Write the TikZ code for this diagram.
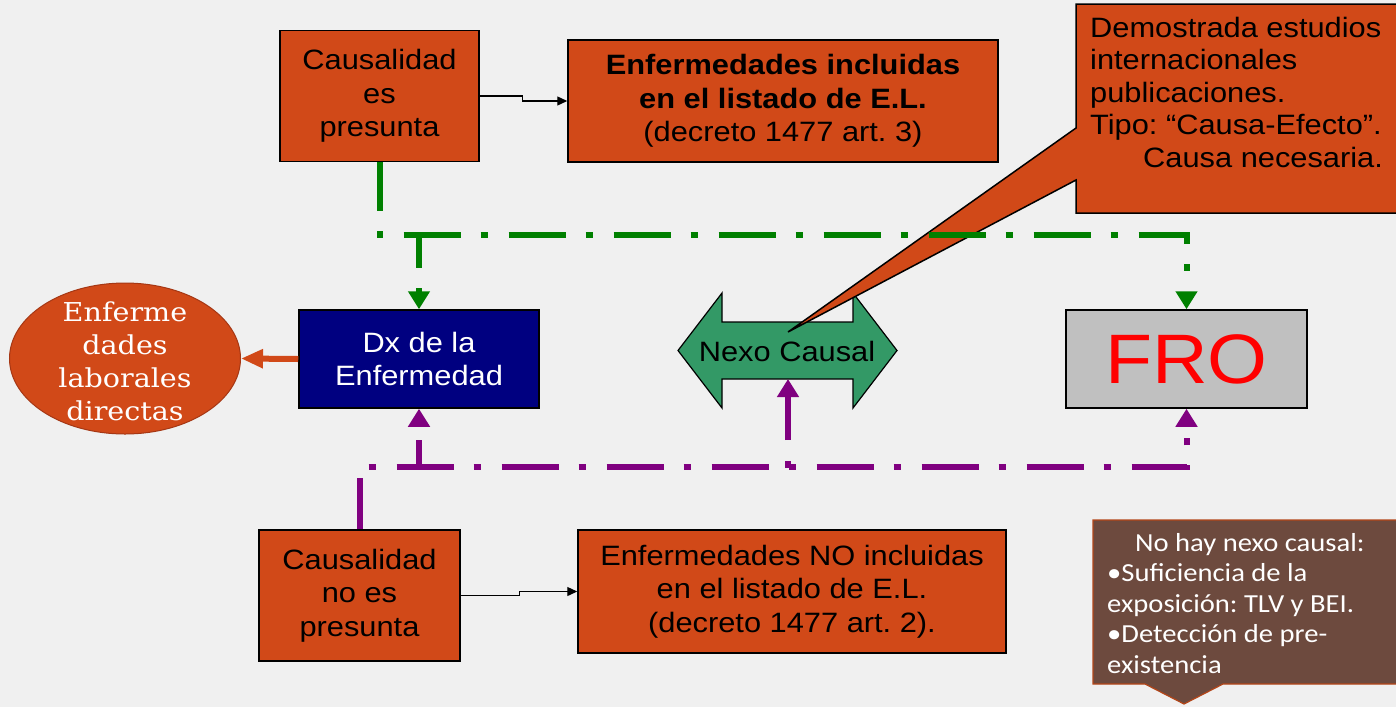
\documentclass[tikz,border=0pt]{standalone}
\usepackage{fontspec}
\setmainfont[FakeStretch=1.1]{Liberation Sans}
\newfontfamily\serifw[FakeStretch=1.1]{DejaVu Serif}
\newfontfamily\calib[FakeStretch=1.1]{Carlito}
\usetikzlibrary{arrows.meta,shapes.geometric}
\definecolor{bg}{RGB}{240,240,240}
\definecolor{orng}{RGB}{209,73,24}
\definecolor{ellborder}{RGB}{165,55,20}
\definecolor{navyb}{RGB}{0,0,128}
\definecolor{frogray}{RGB}{192,192,192}
\definecolor{nexog}{RGB}{51,153,102}
\definecolor{gline}{RGB}{0,128,0}
\definecolor{pline}{RGB}{128,0,128}
\definecolor{brownfill}{RGB}{109,74,62}
\definecolor{brownborder}{RGB}{180,70,25}
\frenchspacing
\begin{document}
\begin{tikzpicture}[x=1pt,y=-1pt,
  box/.style={draw=black, line width=1.5pt, fill=orng, inner sep=0pt, align=center,
    font=\fontsize{28}{33.5}\selectfont},
  blk/.style={draw=black, line width=1.3pt, -{Triangle[length=10pt,width=9pt]}},
  dd/.style={line width=6pt, dash pattern=on 57pt off 20pt on 7pt off 21pt,
    -{Triangle[length=18pt,width=21pt]}},
  grn/.style={dd, draw=gline},
  prp/.style={dd, draw=pline},
  txt/.style={inner sep=0pt, align=left, font=\fontsize{28}{32.5}\selectfont}
]
\useasboundingbox (0,0) rectangle (1396,707);
\clip (0,0) rectangle (1396,707);
\fill[bg] (0,0) rectangle (1396,707);

% boxes
\node[box, minimum width=199pt, minimum height=131pt] (A) at (379.5,96) {Causalidad\\es\\presunta};
\node[box, minimum width=430pt, minimum height=122pt] (B) at (783,101) {\textbf{Enfermedades incluidas}\\\textbf{en el listado de E.L.}\\(decreto 1477 art. 3)};
\node[box, fill=navyb, text=white, minimum width=240pt, minimum height=98pt] (Dx) at (419,359) {Dx de la\\Enfermedad};
\node[box, fill=frogray, text=red, minimum width=241pt, minimum height=98pt, font=\fontsize{70}{80}\selectfont] (F) at (1186.5,359) {FRO};
\node[box, minimum width=201pt, minimum height=131pt] (C) at (359.5,595.5) {Causalidad\\no es\\presunta};
\node[box, minimum width=428pt, minimum height=123pt] (D) at (792,591.5) {Enfermedades NO incluidas\\en el listado de E.L.\\(decreto 1477 art. 2).};

% ellipse
\node[ellipse, draw=ellborder, line width=1pt, fill=orng, minimum width=231pt, minimum height=151pt, inner sep=0pt] (E) at (125,358.5) {};
\node[inner sep=0pt, align=center, text=white, font=\serifw\fontsize{26}{33}\selectfont] (Et) at (125,361) {Enferme\\dades\\laborales\\directas};

% Nexo causal double arrow
\draw[fill=nexog, draw=black, line width=1.2pt] (678,350.5) -- (722,293) -- (722,322) -- (853,322) -- (853,293) -- (897,350.5) -- (853,408) -- (853,379) -- (722,379) -- (722,408) -- cycle;
\node[inner sep=0pt, font=\fontsize{28}{33.5}\selectfont] (N) at (787,351) {Nexo Causal};
\coordinate (Nb) at (788,379);

% top right callout
\draw[fill=orng, draw=black, line width=1.5pt] (1076,4) -- (1076,128) -- (788,332) -- (1076,180) -- (1076,213) -- (1402,213) -- (1402,4) -- cycle;
\node[txt, anchor=north west] (T) at (1090,17) {Demostrada estudios\\internacionales\\publicaciones.\\Tipo: “Causa-Efecto”.\\\hspace*{53pt}Causa necesaria.};

% bottom right callout
\draw[fill=brownfill, draw=brownborder, line width=1.2pt] (1093,520) -- (1402,520) -- (1402,684) -- (1223,684) -- (1184,704) -- (1145,684) -- (1093,684) -- cycle;
\node[inner sep=0pt, align=left, anchor=north west, text=white, font=\calib\fontsize{26}{30.5}\selectfont] (R) at (1107,533) {\hspace*{28pt}No hay nexo causal:\\•Suficiencia de la\\exposición: TLV y BEI.\\•Detección de pre-\\existencia};

% black connectors
\draw[blk] (A.east) -- ++(43,0) |- (B.west);
\draw[blk] (C.east) -- ++(59,0) |- (D.west);

% green connectors
\draw[grn, dash phase=8pt] (A.south) -- ++(0,73) -| (F.north);
\draw[grn, dash phase=24pt] (Dx.north |- 0,235) -- (Dx.north);

% purple connectors
\draw[prp, dash phase=6pt] (C.north) -- ++(0,-62) -| (F.south);
\draw[prp, dash phase=29pt] (Dx.south |- 0,468) -- (Dx.south);
\draw[prp, dash phase=77pt] (Nb |- 0,468) -- (Nb);

% orange arrow
\draw[draw=orng, line width=6pt, -{Triangle[length=22pt,width=18pt]}] (Dx.west) -- (E.east);
\end{tikzpicture}
\end{document}
